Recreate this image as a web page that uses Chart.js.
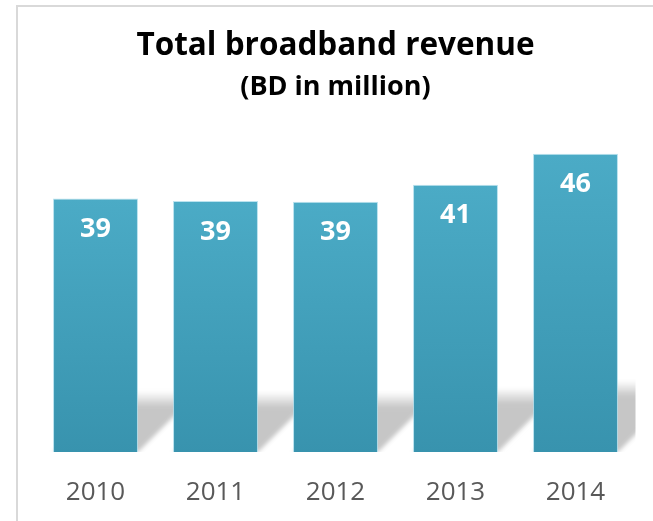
<!DOCTYPE html>
<html>
<head>
<meta charset="utf-8">
<script src="https://cdn.jsdelivr.net/npm/chart.js@4.4.0/dist/chart.umd.min.js"></script>
<style>
  html, body { margin: 0; padding: 0; background: #fff; }
  #wrap { position: relative; width: 653px; height: 521px; }
  #frame { position: absolute; left: 16px; top: 5px; right: 0; bottom: 0;
           border-left: 2px solid #d9d9d9; border-top: 2px solid #d9d9d9; }
  canvas { position: absolute; left: 0; top: 0; }
</style>
</head>
<body>
<div id="wrap">
  <div id="frame"></div>
  <canvas id="revenueChart" width="653" height="521"></canvas>
</div>
<script>
var years = ['2010', '2011', '2012', '2013', '2014'];
var revenue = [39.1, 38.7, 38.6, 41.2, 46.0];
var titleText = 'Total broadband revenue';
var subtitleText = '(BD in million)';

var fontFamily = '"Open Sans", Lato, sans-serif';

// perspective shadow behind the bars (skewed up-right, clipped to plot area)
var barShadow = {
    id: 'barShadow',
    beforeDatasetsDraw(chart) {
        var ctx = chart.ctx;
        var area = chart.chartArea;
        var meta = chart.getDatasetMeta(0);
        ctx.save();
        ctx.beginPath();
        ctx.rect(area.left, area.top, area.right - area.left, area.bottom - area.top);
        ctx.clip();
        ctx.filter = 'blur(2px)';
        meta.data.forEach((bar) => {
            var p = bar.getProps(['x', 'y', 'base', 'width'], true);
            var h = (p.base - p.y) * 0.24;
            var l = p.x - p.width / 2;
            var r = p.x + p.width / 2;
            var grad = ctx.createLinearGradient(0, p.base - h, 0, p.base - h + 16);
            grad.addColorStop(0, 'rgba(198,198,198,0)');
            grad.addColorStop(1, 'rgba(198,198,198,1)');
            ctx.fillStyle = grad;
            ctx.beginPath();
            ctx.moveTo(l, p.base);
            ctx.lineTo(r, p.base);
            ctx.lineTo(r + h, p.base - h);
            ctx.lineTo(l + h, p.base - h);
            ctx.closePath();
            ctx.fill();
        });
        ctx.restore();
    }
};

// white value labels inside the top of each bar
var valueLabels = {
    id: 'valueLabels',
    afterDatasetsDraw(chart) {
        var ctx = chart.ctx;
        var meta = chart.getDatasetMeta(0);
        ctx.save();
        ctx.fillStyle = '#ffffff';
        ctx.font = 'bold 27px ' + fontFamily;
        ctx.textAlign = 'center';
        ctx.textBaseline = 'middle';
        meta.data.forEach((bar, i) => {
            ctx.fillText(Math.round(revenue[i]), bar.x, bar.y + 31);
        });
        ctx.restore();
    }
};

function barGradient(context) {
    var chart = context.chart;
    if (!chart.chartArea) return '#46a5bf';
    var yScale = chart.scales.y;
    var top = yScale.getPixelForValue(revenue[context.dataIndex]);
    var bottom = yScale.getPixelForValue(0);
    var g = chart.ctx.createLinearGradient(0, top, 0, bottom);
    g.addColorStop(0, '#4babc6');
    g.addColorStop(1, '#3893ae');
    return g;
}

var ctx = document.getElementById('revenueChart').getContext('2d');
var revenueChart = new Chart(ctx, {
    type: 'bar',
    data: {
        labels: years,
        datasets: [{
            label: 'Revenue',
            data: revenue,
            backgroundColor: barGradient,
            borderColor: 'rgba(170,220,235,0.8)',
            borderWidth: { top: 1, left: 1, right: 1, bottom: 0 },
            categoryPercentage: 1,
            barPercentage: 0.708
        }]
    },
    options: {
        responsive: false,
        animation: false,
        layout: { padding: { left: 35.5, right: 17.5, top: 0, bottom: 0 } },
        plugins: {
            legend: { display: false },
            tooltip: { enabled: false },
            title: {
                display: true,
                text: titleText,
                color: '#000000',
                font: { family: fontFamily, size: 31.5, weight: 'bold', lineHeight: 1.2 },
                padding: { top: 27, bottom: 0 }
            },
            subtitle: {
                display: true,
                text: subtitleText,
                color: '#000000',
                font: { family: fontFamily, size: 27, weight: 'bold', lineHeight: 1.2 },
                padding: { top: 6, bottom: 24.5 }
            }
        },
        scales: {
            x: {
                grid: { display: false, drawTicks: false },
                border: { display: false },
                ticks: {
                    color: '#595959',
                    font: { family: fontFamily, size: 26, lineHeight: 1.2 },
                    padding: 25
                },
                afterFit(scale) { scale.height = 69; }
            },
            y: {
                display: false,
                min: 0,
                max: 50
            }
        }
    },
    plugins: [barShadow, valueLabels]
});
</script>
</body>
</html>
